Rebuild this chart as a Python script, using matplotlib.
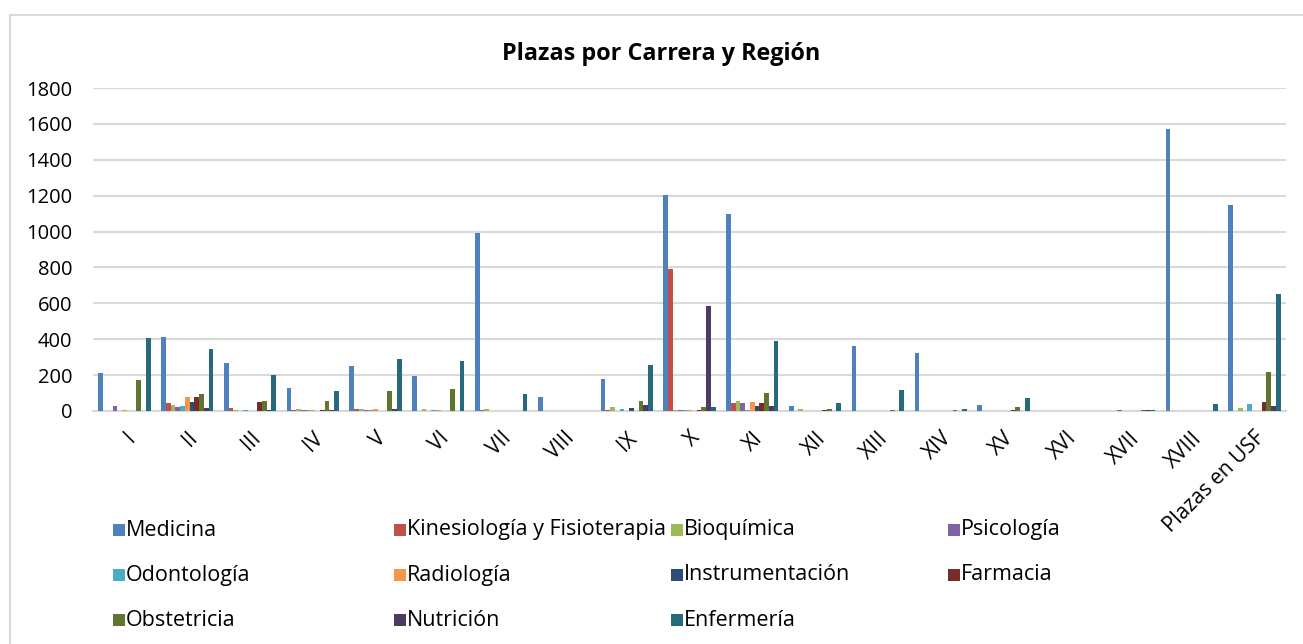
import numpy as np
import matplotlib
matplotlib.use("Agg")
import matplotlib.pyplot as plt
from matplotlib.patches import Rectangle

plt.rcParams['font.family'] = ['Open Sans', 'DejaVu Sans']

regiones = ['I', 'II', 'III', 'IV', 'V', 'VI', 'VII', 'VIII', 'IX', 'X', 'XI',
            'XII', 'XIII', 'XIV', 'XV', 'XVI', 'XVII', 'XVIII', 'Plazas en USF']

carreras = ['Medicina', 'Kinesiología y Fisioterapia', 'Bioquímica', 'Psicología',
            'Odontología', 'Radiología', 'Instrumentación', 'Farmacia',
            'Obstetricia', 'Nutrición', 'Enfermería']

colores = ['#4F81BD', '#C0504D', '#9BBB59', '#8064A2', '#4BACC6', '#F79646',
           '#2C4D75', '#772C2A', '#5F7530', '#4D3B62', '#276A7C']

# one list per carrera, values by region
medicina        = [210, 410, 265, 130, 250, 195, 990, 78, 180, 1205, 1100, 30, 365, 325, 35, 0, 0, 1570, 1150]
kinesiologia    = [0, 45, 15, 5, 12, 0, 5, 0, 5, 790, 42, 0, 0, 0, 0, 0, 0, 0, 0]
bioquimica      = [0, 35, 5, 12, 12, 12, 12, 0, 25, 5, 55, 12, 0, 0, 0, 0, 0, 0, 15]
psicologia      = [30, 22, 0, 5, 5, 0, 0, 0, 0, 5, 42, 0, 0, 0, 0, 0, 5, 0, 0]
odontologia     = [0, 28, 5, 5, 5, 5, 0, 0, 12, 5, 5, 0, 0, 0, 0, 0, 0, 0, 38]
radiologia      = [8, 80, 0, 5, 12, 5, 0, 0, 0, 5, 50, 0, 0, 0, 0, 0, 0, 0, 0]
instrumentacion = [0, 50, 0, 0, 0, 0, 0, 0, 19, 0, 26, 0, 0, 0, 0, 0, 0, 0, 0]
farmacia        = [0, 78, 52, 5, 0, 0, 0, 0, 0, 5, 42, 5, 0, 0, 5, 0, 0, 0, 50]
obstetricia     = [175, 95, 58, 55, 110, 122, 0, 0, 55, 25, 98, 12, 5, 5, 20, 0, 5, 0, 220]
nutricion       = [0, 15, 5, 5, 12, 0, 0, 0, 32, 585, 26, 0, 0, 0, 0, 0, 5, 0, 28]
enfermeria      = [405, 345, 200, 110, 292, 278, 92, 0, 255, 25, 392, 45, 115, 13, 70, 0, 5, 38, 650]

series = [medicina, kinesiologia, bioquimica, psicologia, odontologia, radiologia,
          instrumentacion, farmacia, obstetricia, nutricion, enfermeria]

W, H = 1303, 644
fig = plt.figure(figsize=(W / 100, H / 100), dpi=100)
ax = fig.add_axes([93 / W, (H - 411) / H, 1193 / W, 323 / H])

x = np.arange(len(regiones))
bw = 0.0757
for i, (vals, col, name) in enumerate(zip(series, colores, carreras)):
    ax.bar(x + (i - 5) * bw, vals, width=bw, color=col, label=name, zorder=3)

ax.set_xlim(-0.5, len(regiones) - 0.5)
ax.set_ylim(0, 1800)
ax.set_yticks(np.arange(0, 1801, 200))
ax.yaxis.grid(True, color='#D9D9D9', linewidth=1.5, zorder=0)
for s in ['top', 'right', 'left']:
    ax.spines[s].set_visible(False)
ax.spines['bottom'].set_color('#D9D9D9')
ax.spines['bottom'].set_linewidth(1.5)
ax.tick_params(axis='both', length=0, labelcolor='#000000')
ax.tick_params(axis='y', pad=15, labelsize=14.5)
ax.set_xticks(x)
ax.set_xticklabels(regiones, rotation=45, ha='right', rotation_mode='anchor')
ax.tick_params(axis='x', pad=12, labelsize=15)

fig.text(661 / W, 1 - 54 / H, 'Plazas por Carrera y Región', ha='center', va='center',
         fontsize=16.8, fontweight='bold')

# outer chart frame
fig.add_artist(Rectangle((10 / W, -0.1), 1.2, 1 - 15 / H + 0.1, transform=fig.transFigure,
                         fill=False, edgecolor='#D9D9D9', linewidth=1.5))

# legend, row by row like the original
col_x = [113, 394, 671, 948]
row_y = [530, 575, 620]
for i, (name, col) in enumerate(zip(carreras, colores)):
    r, c = divmod(i, 4)
    px, py = col_x[c], row_y[r]
    fig.add_artist(Rectangle((px / W, 1 - (py + 6) / H), 12 / W, 12 / H,
                             transform=fig.transFigure, facecolor=col, edgecolor='none'))
    fig.text((px + 13) / W, 1 - py / H, name, ha='left', va='center', fontsize=15.5)

fig.savefig('out.png', dpi=100)
